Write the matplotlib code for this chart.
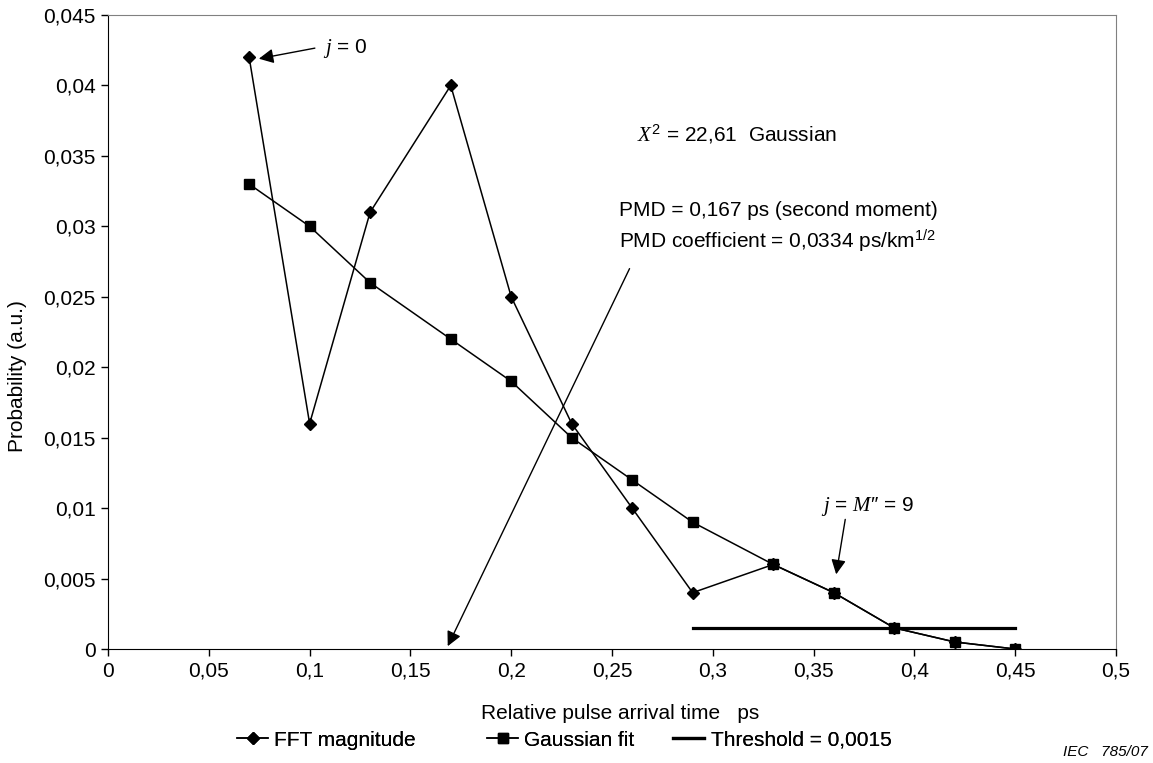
import matplotlib.pyplot as plt
from matplotlib.ticker import FuncFormatter, MultipleLocator

plt.rcParams["font.family"] = ["Liberation Sans", "DejaVu Sans"]
plt.rcParams["font.size"] = 15
plt.rcParams["mathtext.fontset"] = "custom"
plt.rcParams["mathtext.it"] = "Liberation Serif:italic"
plt.rcParams["mathtext.rm"] = "Liberation Sans"

# data
t_ps = [0.07, 0.10, 0.13, 0.17, 0.20, 0.23, 0.26, 0.29, 0.33, 0.36, 0.39, 0.42, 0.45]
fft_mag = [0.042, 0.016, 0.031, 0.040, 0.025, 0.016, 0.010, 0.004, 0.006, 0.004, 0.0015, 0.0005, 0.0]
gauss_fit = [0.033, 0.030, 0.026, 0.022, 0.019, 0.015, 0.012, 0.009, 0.006, 0.004, 0.0015, 0.0005, 0.0]
thr_x = [0.29, 0.45]
thr_y = [0.0015, 0.0015]


def comma_fmt(v, pos):
    s = f"{v:.3f}".rstrip("0").rstrip(".")
    return s.replace(".", ",")


fig = plt.figure(figsize=(11.53, 7.63), dpi=100)
ax = fig.add_axes([0.0937, 0.1494, 0.8742, 0.8309])

h_fft, = ax.plot(t_ps, fft_mag, "k-", marker="D", markersize=6.5, linewidth=1.1,
                 label="FFT magnitude")
h_gau, = ax.plot(t_ps, gauss_fit, "k-", marker="s", markersize=7.5, linewidth=1.1,
                 label="Gaussian fit")
h_thr, = ax.plot(thr_x, thr_y, "k-", linewidth=2.3, label="Threshold = 0,0015")

ax.set_xlim(0, 0.5)
ax.set_ylim(0, 0.045)
ax.xaxis.set_major_locator(MultipleLocator(0.05))
ax.yaxis.set_major_locator(MultipleLocator(0.005))
ax.xaxis.set_major_formatter(FuncFormatter(comma_fmt))
ax.yaxis.set_major_formatter(FuncFormatter(comma_fmt))
ax.tick_params(direction="out", length=5, width=1, labelsize=15, pad=4)
for side in ("top", "right"):
    ax.spines[side].set_color("#808080")
for side in ("left", "bottom"):
    ax.spines[side].set_color("black")

ax.set_xlabel("Relative pulse arrival time   ps", fontsize=15)
ax.xaxis.set_label_coords(0.508, -0.086)
ax.set_ylabel("Probability (a.u.)", fontsize=15)
ax.yaxis.set_label_coords(-0.080, 0.43)

arrow = dict(arrowstyle="-|>", color="black", lw=1, mutation_scale=22,
             shrinkA=0, shrinkB=0)

ax.text(0.1066, 0.0426, "$j$ = 0", fontsize=15, va="center", ha="left")
ax.annotate("", xy=(0.0748, 0.0419), xytext=(0.1026, 0.04265), arrowprops=arrow)

ax.text(0.2622, 0.0365, r"$X^2$ = 22,61  Gaussian", fontsize=15,
        va="center", ha="left")
ax.text(0.2535, 0.0311, "PMD = 0,167 ps (second moment)", fontsize=15,
        va="center", ha="left")
ax.text(0.2535, 0.0290, "PMD coefficient = 0,0334 ps/km$^{1/2}$", fontsize=15,
        va="center", ha="left")
ax.annotate("", xy=(0.1685, 0.0002), xytext=(0.2587, 0.0270), arrowprops=arrow)

ax.text(0.3538, 0.0101, "$j$ = $M$\u2033 = 9", fontsize=15, va="center", ha="left")
ax.annotate("", xy=(0.3612, 0.0053), xytext=(0.3657, 0.0092), arrowprops=arrow)

# legend entries spaced like the original, one small legend per entry
leg_left = [237, 487, 673]
for handle, x0 in zip([h_fft, h_gau, h_thr], leg_left):
    leg = fig.legend(handles=[handle], loc="center left",
                     bbox_to_anchor=(x0 / 1153, 1 - 740 / 763),
                     frameon=False, fontsize=15, handlelength=1.5,
                     handletextpad=0.3, borderpad=0, borderaxespad=0)
    fig.add_artist(leg)

fig.text(1148 / 1153, 1 - 752 / 763, "IEC   785/07", fontsize=11, style="italic",
         ha="right", va="center")

fig.savefig("out.png", dpi=100)
